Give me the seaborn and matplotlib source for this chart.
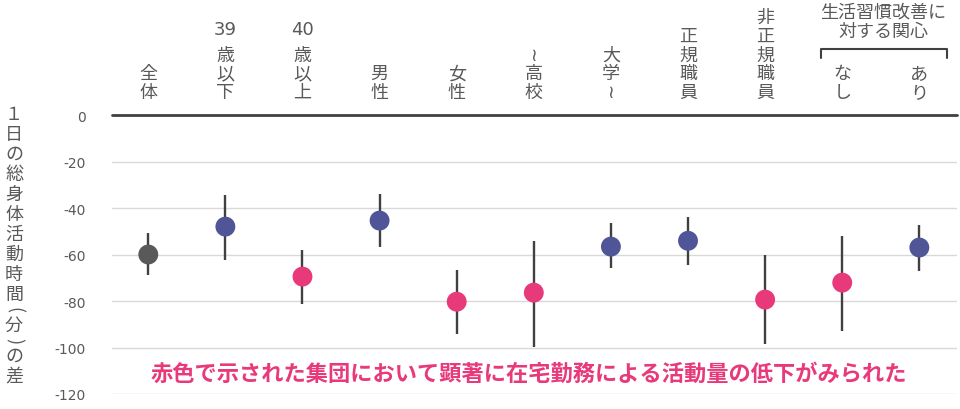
import numpy as np
import pandas as pd
import matplotlib
matplotlib.use("Agg")
import matplotlib.pyplot as plt
import matplotlib.transforms as mtransforms
import seaborn as sns

# -------- data --------

categories = ["全体", "39歳以下", "40歳以上", "男性", "女性", "~高校",
              "大学~", "正規職員", "非正規職員", "なし", "あり"]
values = [-60.0, -48.0, -69.5, -45.4, -80.3, -76.4, -56.6, -54.1, -79.4, -72.1, -57.0]
err_low = [-68.7, -62.2, -81.5, -56.7, -94.4, -99.6, -66.0, -64.4, -98.3, -92.7, -66.9]
err_high = [-50.6, -34.3, -57.9, -33.9, -66.5, -54.1, -46.4, -43.8, -60.1, -51.9, -47.2]
groups = ["all", "other", "low", "other", "low", "low",
          "other", "other", "low", "low", "other"]

y_ticks = [0, -20, -40, -60, -80, -100, -120]
y_label = "１日の総身体活動時間(分)の差"
note = "赤色で示された集団において顕著に在宅勤務による活動量の低下がみられた"
bracket_title = "生活習慣改善に\n対する関心"

palette = {"all": "#595959", "other": "#4F5597", "low": "#E8397A"}

df = pd.DataFrame({
    "pos": np.arange(len(categories)),
    "value": values,
    "low": err_low,
    "high": err_high,
    "group": groups,
})

# -------- style --------

sns.set_style("white")
plt.rcParams["font.family"] = ["Noto Sans CJK JP", "DejaVu Sans"]

W, H = 960, 410
fig = plt.figure(figsize=(W / 100, H / 100), dpi=100)
ax = fig.add_axes([0.1167, 0.0366, 0.8803, 0.6804])

# error bars
ax.vlines(df["pos"], df["low"], df["high"], color="#404040", linewidth=1.7, zorder=2)

# points
sns.scatterplot(
    data=df, x="pos", y="value", hue="group", palette=palette,
    s=205, edgecolor="none", legend=False, zorder=3, ax=ax
)

# axes
ax.set_xlim(-0.47, 10.49)
ax.set_ylim(-120, 0)
ax.set_yticks(y_ticks)
ax.set_yticklabels([str(t) for t in y_ticks], color="#595959", fontsize=10,
                   family=["DejaVu Sans"])
ax.tick_params(axis="y", length=0, pad=19)
ax.set_xticks([])
ax.set_xlabel("")
ax.set_ylabel("")
for s in ax.spines.values():
    s.set_visible(False)

for t in y_ticks[1:]:
    ax.axhline(t, color="#D9D9D9", linewidth=1.0, zorder=0)
ax.axhline(0, color="#404040", linewidth=2.0, zorder=1, clip_on=False)

# category labels (vertical writing)
trans = mtransforms.blended_transform_factory(ax.transData, ax.transAxes)
for i, cat in enumerate(categories):
    num = ""
    body = cat
    while body and body[0].isdigit():
        num += body[0]
        body = body[1:]
    body = body.replace("~", "≀")
    ax.text(i, 1.05, "\n".join(body), transform=trans, ha="center", va="bottom",
            fontsize=13, color="#595959", linespacing=1.05)
    if num:
        ax.text(i, 1.31, num, transform=trans, ha="center", va="center",
                fontsize=13, color="#595959", family=["DejaVu Sans"])

# bracket over なし / あり
ax.plot([8.73, 8.73, 10.36, 10.36], [1.205, 1.237, 1.237, 1.205],
        transform=trans, color="#404040", linewidth=1.5, clip_on=False)
ax.text(9.53, 1.27, bracket_title, transform=trans, ha="center", va="bottom",
        fontsize=13, color="#595959", linespacing=1.1)

# y label (vertical writing, one character at a time)
y_px = 115
prev_paren = False
for ch in y_label:
    paren = ch in "()"
    if ch != y_label[0]:
        y_px += 15.5 if (paren or prev_paren) else 20
    fig.text(14 / W, 1 - y_px / H, ch, ha="center", va="center",
             fontsize=13, color="#595959", rotation=-90 if paren else 0)
    prev_paren = paren

# note
ax.text(4.93, -111, note, ha="center", va="center", fontsize=16,
        fontweight="bold", color="#E8397A")

fig.savefig("out.png", dpi=100)
